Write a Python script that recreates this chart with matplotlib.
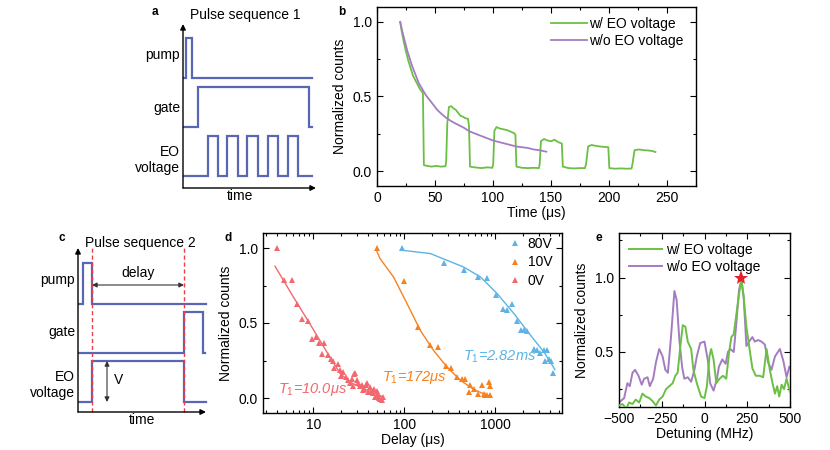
import numpy as np
import matplotlib
matplotlib.use("Agg")
import matplotlib.pyplot as plt
from matplotlib.ticker import MultipleLocator, LogLocator, NullFormatter

plt.rcParams['font.family'] = ['Liberation Sans', 'DejaVu Sans']
plt.rcParams['font.size'] = 10
plt.rcParams['mathtext.fontset'] = 'custom'
plt.rcParams['mathtext.it'] = 'Liberation Sans:italic'
plt.rcParams['mathtext.rm'] = 'Liberation Sans'

# ---- panel b: time traces
b_green_t = [20, 21, 23, 25, 27, 29, 31, 33, 35, 37, 39, 39.6, 40.4, 43, 47, 51, 55, 59,
             59.6, 60.6, 62, 64, 66, 68, 70, 72, 74, 76, 78.5, 79.3, 80.2, 84, 90, 95, 99.5,
             100.2, 101.2, 103, 106, 109, 112, 115, 118, 119.3, 120.2, 125, 130, 135, 139.6,
             140.3, 141.3, 144, 147, 150, 153, 156, 159.3, 160.2, 165, 170, 175, 179.3,
             180.3, 182, 185, 188, 192, 196, 199.4, 200.3, 205, 210, 215, 219.4,
             220.3, 222, 226, 230, 234, 237, 240]
b_green_y = [1.0, 0.95, 0.87, 0.80, 0.74, 0.69, 0.64, 0.61, 0.58, 0.55, 0.53, 0.52, 0.04, 0.035, 0.03, 0.035, 0.03, 0.032,
             0.06, 0.32, 0.43, 0.435, 0.42, 0.41, 0.39, 0.37, 0.365, 0.355, 0.35, 0.30, 0.03, 0.025, 0.02, 0.025, 0.022,
             0.05, 0.27, 0.295, 0.285, 0.28, 0.275, 0.265, 0.255, 0.245, 0.03, 0.022, 0.02, 0.022, 0.02,
             0.05, 0.20, 0.215, 0.205, 0.20, 0.21, 0.195, 0.185, 0.03, 0.02, 0.018, 0.02, 0.02,
             0.05, 0.165, 0.175, 0.17, 0.165, 0.162, 0.16, 0.02, 0.016, 0.018, 0.016, 0.017,
             0.05, 0.14, 0.145, 0.14, 0.138, 0.135, 0.128]
b_purple_t = [20, 22, 24, 26, 28, 30, 33, 36, 39, 42, 45, 48, 52, 56, 60, 65, 70, 75, 80, 85,
              90, 95, 100, 105, 110, 115, 120, 125, 130, 135, 140, 146]
b_purple_y = [1.0, 0.93, 0.87, 0.81, 0.76, 0.71, 0.65, 0.59, 0.55, 0.51, 0.48, 0.45, 0.41, 0.38,
              0.355, 0.33, 0.31, 0.29, 0.265, 0.25, 0.235, 0.22, 0.205, 0.195, 0.185, 0.175,
              0.165, 0.16, 0.155, 0.145, 0.14, 0.13]

# ---- panel d: T1 decays
d_red_x = [4, 4.8, 5.8, 6.7, 7.6, 8.8, 9.6, 10.7, 11.6, 12.4, 13.1, 14.4, 15.5, 16.4, 17, 18.9,
           19.5, 20.2, 21.4, 22.9, 24, 25.4, 26.5, 27, 28.3, 29, 30, 31, 32.6, 34, 35.5, 36.5,
           38, 38.8, 40.3, 42, 42.5, 44, 45.8, 46, 47.8, 49.8, 50, 52, 52.5, 54, 56.6, 58]
d_red_y = [1.0, 0.79, 0.785, 0.625, 0.525, 0.511, 0.391, 0.407, 0.369, 0.296, 0.367, 0.289, 0.26,
           0.245, 0.203, 0.229, 0.19, 0.145, 0.173, 0.14, 0.12, 0.10, 0.13, 0.08, 0.163, 0.167,
           0.118, 0.10, 0.078, 0.09, 0.056, 0.06, 0.085, 0.10, 0.04, 0.073, 0.04, 0.05, 0.033,
           0.058, 0.007, 0.007, 0.047, 0.03, 0.0, -0.004, -0.015, 0.01]
d_red_fit_x = [3.8, 6.0, 9.2, 14, 19.7, 25.4, 32.6, 42, 50, 57]
d_red_fit_y = [0.878, 0.676, 0.493, 0.309, 0.163, 0.105, 0.073, 0.045, 0.025, 0.01]

d_orange_x = [50, 100, 140, 190, 233, 289, 326, 380, 425, 468, 512, 522, 588, 640, 715,
              750, 778, 846, 883, 870, 820]
d_orange_y = [1.0, 0.78, 0.473, 0.356, 0.34, 0.213, 0.203, 0.14, 0.13, 0.125, 0.04, 0.085,
              0.063, 0.03, 0.09, 0.025, 0.023, 0.107, 0.08, 0.02, 0.02]
d_orange_fit_x = [50, 54, 76, 107, 150, 209, 294, 413, 578, 883]
d_orange_fit_y = [0.978, 0.93, 0.807, 0.63, 0.45, 0.318, 0.207, 0.118, 0.058, 0.007]

d_blue_x = [94, 275, 457, 640, 812, 1025, 1218, 1350, 1530, 1740, 1890, 2085, 2230, 2640,
            2870, 3120, 3390, 3530, 3680, 3880, 4110, 4330]
d_blue_y = [1.0, 0.90, 0.856, 0.81, 0.80, 0.685, 0.596, 0.585, 0.625, 0.513, 0.456, 0.456,
            0.45, 0.33, 0.318, 0.30, 0.318, 0.25, 0.318, 0.26, 0.25, 0.17]
d_blue_fit_x = [94, 193, 449, 686, 1047, 1600, 2436, 3415, 4230, 4500]
d_blue_fit_y = [0.985, 0.963, 0.873, 0.807, 0.696, 0.563, 0.418, 0.307, 0.218, 0.19]

# ---- panel e: spectra
e_purple_x = [-500, -470, -451, -437, -421, -406, -386, -367, -353, -333, -320, -300, -284,
              -265, -245, -229, -214, -196, -176, -163, -147, -131, -118, -98, -78, -59, -45,
              -25, 0, 20, 33, 53, 73, 84, 104, 124, 137, 151, 171, 186, 202, 216, 229, 245,
              261, 280, 294, 314, 333, 353, 372, 392, 412, 441, 461, 480, 496]
e_purple_y = [0.16, 0.19, 0.29, 0.27, 0.36, 0.38, 0.34, 0.28, 0.32, 0.33, 0.27, 0.32, 0.43,
              0.52, 0.47, 0.38, 0.36, 0.60, 0.91, 0.85, 0.58, 0.40, 0.32, 0.33, 0.30, 0.38,
              0.47, 0.56, 0.57, 0.44, 0.29, 0.24, 0.32, 0.40, 0.45, 0.42, 0.50, 0.52, 0.50,
              0.69, 0.92, 0.98, 0.87, 0.54, 0.57, 0.60, 0.57, 0.58, 0.57, 0.55, 0.43, 0.38,
              0.47, 0.52, 0.44, 0.33, 0.40]
e_green_x = [-500, -480, -457, -441, -421, -402, -382, -363, -343, -323, -304, -284, -265,
             -245, -225, -206, -186, -171, -157, -143, -127, -112, -98, -78, -65, -45, -20,
             0, 14, 29, 39, 53, 69, 88, 108, 127, 143, 157, 171, 186, 202, 216, 229, 245,
             261, 280, 300, 323, 343, 363, 382, 398, 412, 425, 437, 451, 465, 480, 500]
e_green_y = [0.14, 0.15, 0.12, 0.16, 0.15, 0.18, 0.16, 0.22, 0.20, 0.19, 0.17, 0.14, 0.18,
             0.20, 0.25, 0.27, 0.29, 0.34, 0.36, 0.52, 0.68, 0.67, 0.57, 0.52, 0.38, 0.29,
             0.20, 0.19, 0.27, 0.47, 0.52, 0.45, 0.29, 0.32, 0.34, 0.32, 0.49, 0.60, 0.62,
             0.75, 0.89, 0.99, 0.87, 0.67, 0.54, 0.39, 0.34, 0.34, 0.33, 0.52, 0.38, 0.29,
             0.22, 0.27, 0.20, 0.28, 0.25, 0.32, 0.23]
e_star = (216, 1.0)

GREEN = '#6cbf45'
PURPLE = '#a47cc2'
RED = '#f2686e'
ORANGE = '#f6821f'
BLUE = '#5bb4e5'
WAVE = '#5966b6'
DASH = '#ee3e48'

W, H = 830, 450
fig = plt.figure(figsize=(W / 100, H / 100), dpi=100)


def box(l, t, r, b):
    return [l / W, 1 - b / H, (r - l) / W, (b - t) / H]


def steps(edges, x0, x1, lo, hi):
    xs, ys, lev = [x0], [lo], lo
    for e in edges:
        nxt = hi if lev == lo else lo
        xs += [e, e]
        ys += [lev, nxt]
        lev = nxt
    xs.append(x1)
    ys.append(lev)
    return xs, ys


def arrow(ax, p0, p1, style='-|>', lw=1.0, color='k', ms=8):
    ax.annotate('', xy=p1, xytext=p0, annotation_clip=False,
                arrowprops=dict(arrowstyle=style, color=color, lw=lw,
                                mutation_scale=ms, shrinkA=0, shrinkB=0))


def style_axes(ax):
    ax.tick_params(which='both', direction='in', top=True, right=True)
    ax.tick_params(which='major', length=4, width=0.8)
    ax.tick_params(which='minor', length=2.5, width=0.8)
    for s in ax.spines.values():
        s.set_linewidth(1.0)


# ---------------- panel a
ax_a = fig.add_axes(box(183, 22, 316, 190))
ax_a.set_xlim(0, 133)
ax_a.set_ylim(0, 168)
ax_a.axis('off')
arrow(ax_a, (0, 2), (0, 166))
arrow(ax_a, (0, 2), (133, 2))
for edges, lo, hi in [([3, 9], 112, 152), ([15, 126], 63, 103),
                      ([25, 35, 44, 55, 64, 75, 85, 95, 105, 115], 14, 54)]:
    xs, ys = steps(edges, 1, 129, lo, hi)
    ax_a.plot(xs, ys, color=WAVE, lw=1.6, solid_joinstyle='miter')
ax_a.text(-3, 135, 'pump', ha='right', va='center')
ax_a.text(-3, 82, 'gate', ha='right', va='center')
ax_a.text(-3, 30, 'EO\nvoltage', ha='right', va='center', linespacing=1.1)
ax_a.text(57, -6, 'time', ha='center', va='center')
ax_a.text(7, 175, 'Pulse sequence 1', ha='left', va='center')

# ---------------- panel c
ax_c = fig.add_axes(box(78, 246, 210, 414))
ax_c.set_xlim(0, 132)
ax_c.set_ylim(0, 168)
ax_c.axis('off')
arrow(ax_c, (0, 2), (0, 166))
arrow(ax_c, (0, 2), (128, 2))
for edges, x1, lo, hi in [([5, 14], 128, 110, 151), ([106, 125], 127, 61, 102),
                          ([14, 106], 128, 12, 53)]:
    xs, ys = steps(edges, 0, x1, lo, hi)
    ax_c.plot(xs, ys, color=WAVE, lw=1.6, solid_joinstyle='miter')
for xv in [14, 106]:
    ax_c.plot([xv, xv], [2, 166], color=DASH, lw=1.0, ls=(0, (3, 2)))
arrow(ax_c, (14, 129), (106, 129), style='<|-|>', lw=0.8, color='#333333', ms=7)
ax_c.text(60, 141, 'delay', ha='center', va='center')
arrow(ax_c, (29, 12), (29, 53), style='<|-|>', lw=0.8, color='#333333', ms=7)
ax_c.text(36, 34, 'V', ha='left', va='center')
ax_c.text(-3, 134, 'pump', ha='right', va='center')
ax_c.text(-3, 82, 'gate', ha='right', va='center')
ax_c.text(-3, 29, 'EO\nvoltage', ha='right', va='center', linespacing=1.1)
ax_c.text(64, -6, 'time', ha='center', va='center')
ax_c.text(7, 171, 'Pulse sequence 2', ha='left', va='center')

# ---------------- panel b
ax_b = fig.add_axes(box(377, 7, 696, 186))
ax_b.plot(b_green_t, b_green_y, color=GREEN, lw=1.3, label='w/ EO voltage')
ax_b.plot(b_purple_t, b_purple_y, color=PURPLE, lw=1.3, label='w/o EO voltage')
ax_b.set_xlim(0, 275)
ax_b.set_ylim(-0.1, 1.1)
ax_b.xaxis.set_major_locator(MultipleLocator(50))
ax_b.xaxis.set_minor_locator(MultipleLocator(25))
ax_b.yaxis.set_major_locator(MultipleLocator(0.5))
ax_b.yaxis.set_minor_locator(MultipleLocator(0.25))
ax_b.set_xlabel('Time (μs)', labelpad=1)
ax_b.set_ylabel('Normalized counts', labelpad=4)
style_axes(ax_b)
ax_b.legend(loc='upper right', bbox_to_anchor=(0.99, 1.0), frameon=False,
            handlelength=2.6, handletextpad=0.15, labelspacing=0.2, borderaxespad=0.3)

# ---------------- panel d
ax_d = fig.add_axes(box(263, 233, 562, 413))
ax_d.set_xscale('log')
ax_d.plot(d_blue_fit_x, d_blue_fit_y, color=BLUE, lw=1.0)
ax_d.plot(d_orange_fit_x, d_orange_fit_y, color=ORANGE, lw=1.0)
ax_d.plot(d_red_fit_x, d_red_fit_y, color=RED, lw=1.0)
ax_d.plot(d_blue_x, d_blue_y, ls='none', marker='^', ms=4, color=BLUE, mew=0, label='80V')
ax_d.plot(d_orange_x, d_orange_y, ls='none', marker='^', ms=4, color=ORANGE, mew=0, label='10V')
ax_d.plot(d_red_x, d_red_y, ls='none', marker='^', ms=4, color=RED, mew=0, label='0V')
ax_d.set_xlim(2.8, 5400)
ax_d.set_ylim(-0.1, 1.1)
ax_d.xaxis.set_major_locator(LogLocator(base=10, numticks=10))
ax_d.xaxis.set_minor_locator(LogLocator(base=10, subs=np.arange(2, 10), numticks=10))
ax_d.xaxis.set_minor_formatter(NullFormatter())
ax_d.set_xticks([10, 100, 1000])
ax_d.set_xticklabels(['10', '100', '1000'])
ax_d.yaxis.set_major_locator(MultipleLocator(0.5))
ax_d.yaxis.set_minor_locator(MultipleLocator(0.25))
ax_d.set_xlabel('Delay (μs)', labelpad=1)
ax_d.set_ylabel('Normalized counts', labelpad=4)
style_axes(ax_d)
ax_d.legend(loc='upper right', bbox_to_anchor=(1.0, 1.03), frameon=False,
            handlelength=1.0, handletextpad=0.4, labelspacing=0.3, borderaxespad=0.3)
ax_d.text(0.164, 0.133, r'$\mathit{T_1}$=10.0μs', color=RED, style='italic', fontsize=10.5,
          transform=ax_d.transAxes, ha='center', va='center')
ax_d.text(0.505, 0.20, r'$\mathit{T_1}$=172μs', color=ORANGE, style='italic', fontsize=10.5,
          transform=ax_d.transAxes, ha='center', va='center')
ax_d.text(0.79, 0.31, r'$\mathit{T_1}$=2.82ms', color=BLUE, style='italic', fontsize=10.5,
          transform=ax_d.transAxes, ha='center', va='center')

# ---------------- panel e
ax_e = fig.add_axes(box(619, 233, 790, 407))
ax_e.plot(e_purple_x, e_purple_y, color=PURPLE, lw=1.4, label='w/o EO voltage', zorder=2)
ax_e.plot(e_green_x, e_green_y, color=GREEN, lw=1.4, label='w/ EO voltage', zorder=3)
ax_e.plot([e_star[0]], [e_star[1]], marker='*', ms=11, color='#e8202a', mew=0, zorder=5)
ax_e.set_xlim(-500, 500)
ax_e.set_ylim(0.13, 1.3)
ax_e.set_xticks([-500, -250, 0, 250, 500])
ax_e.xaxis.set_minor_locator(MultipleLocator(125))
ax_e.yaxis.set_major_locator(MultipleLocator(0.5))
ax_e.yaxis.set_minor_locator(MultipleLocator(0.25))
ax_e.set_xlabel('Detuning (MHz)', labelpad=1)
ax_e.set_ylabel('Normalized counts', labelpad=4)
style_axes(ax_e)
h, l = ax_e.get_legend_handles_labels()
ax_e.legend(h[::-1], l[::-1], loc='upper left', frameon=False, handlelength=2.4,
            handletextpad=0.3, labelspacing=0.2, borderaxespad=0.3)

# panel letters
for letter, x, y in [('a', 155, 12), ('b', 342, 12), ('c', 62, 238), ('d', 228, 238), ('e', 599, 238)]:
    fig.text(x / W, 1 - y / H, letter, ha='center', va='center', fontsize=8.5, weight='bold')

fig.savefig('out.png', dpi=100)
